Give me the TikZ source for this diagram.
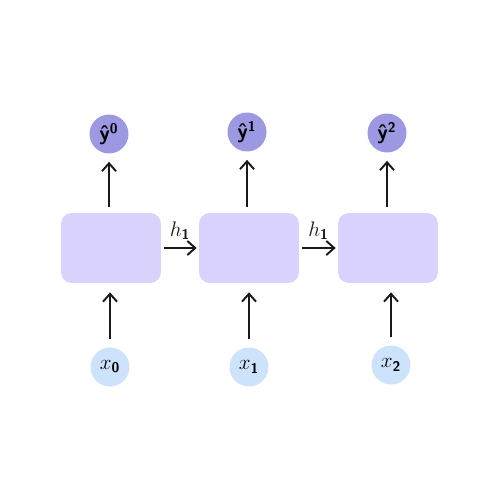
\documentclass[tikz,border=0pt]{standalone}
\usepackage{amsmath}
\usetikzlibrary{arrows.meta}
\definecolor{boxfill}{HTML}{D9D2FC}
\definecolor{outfill}{HTML}{9D98E2}
\definecolor{infill}{HTML}{CDE2FB}
\newcommand{\sbd}[1]{\text{\sffamily\bfseries #1}}
\begin{document}
\begin{tikzpicture}[x=0.02cm,y=-0.02cm,
  cell/.style={fill=boxfill,rounded corners=0.22cm,minimum width=2cm,minimum height=1.4cm,inner sep=0pt},
  outc/.style={circle,fill=outfill,minimum size=0.78cm,inner sep=0pt,font=\sffamily\bfseries\large},
  inc/.style={circle,fill=infill,minimum size=0.78cm,inner sep=0pt,font=\large},
  arr/.style={-{Straight Barb[length=4.5pt,width=8pt]},line width=1.1pt,black!90},
  hlab/.style={font=\large}]
\useasboundingbox (0,0) rectangle (500,500);
\node[cell] (b0) at (111,248) {};
\node[cell] (b1) at (249,248) {};
\node[cell] (b2) at (388,248) {};
\node[outc] (y0) at (109,134) {ŷ\textsuperscript{0}};
\node[outc] (y1) at (247,132) {ŷ\textsuperscript{1}};
\node[outc] (y2) at (387,133) {ŷ\textsuperscript{2}};
\node[inc] (x0) at (110,367) {$x_{\sbd{0}}$};
\node[inc] (x1) at (249,367) {$x_{\sbd{1}}$};
\node[inc] (x2) at (391,365) {$x_{\sbd{2}}$};
\foreach \i in {0,1,2}{
  \draw[arr,shorten <=0.12cm,shorten >=0.16cm] (b\i.north -| y\i) -- (y\i.south);
  \draw[arr,shorten <=0.16cm,shorten >=0.18cm] (x\i.north) -- (x\i |- b\i.south);
}
\draw[arr,shorten <=0.06cm,shorten >=0.04cm] (b0.east) -- node[above=1pt,hlab] {$h_{\sbd{1}}$} (b1.west);
\draw[arr,shorten <=0.06cm,shorten >=0.04cm] (b1.east) -- node[above=1pt,hlab] {$h_{\sbd{1}}$} (b2.west);
\end{tikzpicture}
\end{document}
